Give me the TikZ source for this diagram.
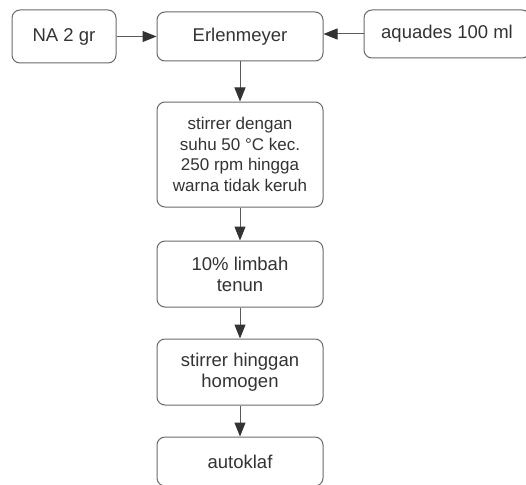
\documentclass[tikz,border=0pt]{standalone}
\usepackage{fontspec}
\setmainfont{Liberation Sans}
\usetikzlibrary{arrows.meta}
\definecolor{boxgray}{HTML}{6A6A6A}
\definecolor{linegray}{HTML}{5A5A5A}
\definecolor{tipgray}{HTML}{333333}
\definecolor{textgray}{HTML}{333333}
\begin{document}
\begin{tikzpicture}[x=1pt,y=-1pt,
  box/.style={draw=boxgray, line width=1pt, rounded corners=8pt, align=center,
    font=\fontsize{18.5}{21}\selectfont, text=textgray, inner sep=0pt, minimum width=166pt},
  smalltext/.style={font=\fontsize{17}{20.7}\selectfont},
  arr/.style={draw=linegray, line width=1pt, -{Triangle[length=14pt,width=11pt,color=tipgray]}}]
\useasboundingbox (0,0) rectangle (526,484);
\fill[white] (0,0) rectangle (526,484);
\clip (0,0) rectangle (526,484);
\node[box, minimum width=104pt, minimum height=53pt] (na) at (64,36.5) {NA 2 gr};
\node[box, minimum height=49pt] (er) at (240,36.5) {Erlenmeyer};
\node[box, minimum height=48pt] (aq) at (447,34) {aquades 100 ml};
\node[box, smalltext, minimum height=105pt] (s1) at (240,154.5) {stirrer dengan\\suhu 50 °C kec.\\250 rpm hingga\\warna tidak keruh};
\node[box, minimum height=66pt] (lt) at (240,274) {10\% limbah\\tenun};
\node[box, minimum height=66pt] (sh) at (240,372) {stirrer hinggan\\homogen};
\node[box, minimum height=49pt] (ak) at (240,461.5) {autoklaf};
\draw[arr] (na.east) -- (er.west);
\draw[arr] (aq.west) -- (aq.west -| er.east);
\draw[arr] (er.south) -- (s1.north);
\draw[arr] (s1.south) -- (lt.north);
\draw[arr] (lt.south) -- (sh.north);
\draw[arr] (sh.south) -- (ak.north);
\end{tikzpicture}
\end{document}
